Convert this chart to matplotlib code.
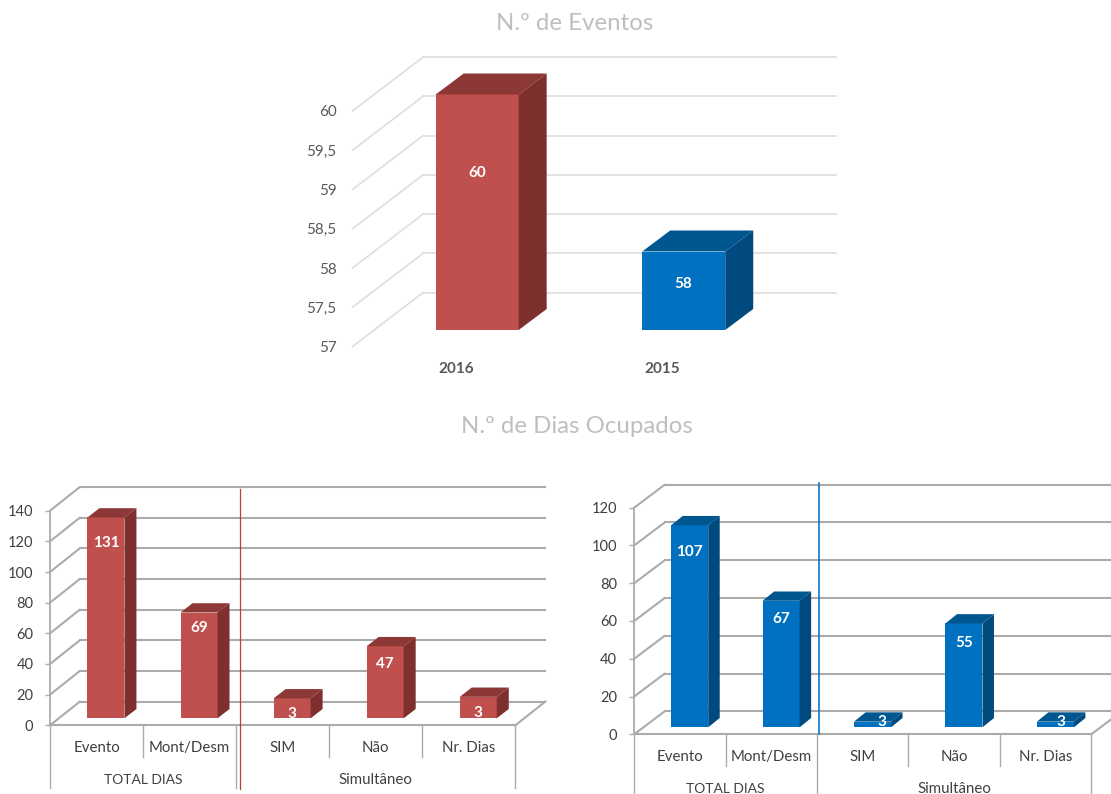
import matplotlib
matplotlib.use("Agg")
import matplotlib.pyplot as plt

plt.rcParams['font.family'] = ['Lato', 'DejaVu Sans']

# ---- data ----
years = ["2016", "2015"]
eventos = [60, 58]
eventos_labels = ["60", "58"]
eventos_ticks = [57, 57.5, 58, 58.5, 59, 59.5, 60]

cats = ["Evento", "Mont/Desm", "SIM", "Não", "Nr. Dias"]
groups = ["TOTAL DIAS", "Simultâneo"]
dias_2016 = [131, 69, 13, 47, 14]
dias_2016_labels = ["131", "69", "3", "47", "3"]
dias_2016_ticks = [0, 20, 40, 60, 80, 100, 120, 140]
dias_2015 = [107, 67, 3, 55, 3]
dias_2015_labels = ["107", "67", "3", "55", "3"]
dias_2015_ticks = [0, 20, 40, 60, 80, 100, 120]

W, H = 1111, 794
RED = ("#C0504D", "#8C3836", "#7D302E")
BLUE = ("#0070C0", "#00578F", "#004A7F")

fig = plt.figure(figsize=(W / 100, H / 100), dpi=100, facecolor="white")


def chart(vals, labels, names, ticks, box, wall, bar_off, depth, bar_w, colors,
          grid_c, grid_lw, tick_fmt, label_drop, label_dx, tick_c, ypad, xpad,
          ticklen=0, xweight="normal", xsize=10.8, ysize=10.5):
    x0, x1, ytop, ybot = box
    ax = fig.add_axes([x0 / W, 1 - ybot / H, (x1 - x0) / W, (ybot - ytop) / H])
    ax.patch.set_alpha(0)
    n = len(vals)
    lo, hi = ticks[0], ticks[-1]
    ax.set_xlim(-0.5, n - 0.5)
    ax.set_ylim(lo, hi)
    ux = (x1 - x0) / n      # px per category
    uy = (ybot - ytop) / (hi - lo)  # px per value
    wx, wy = wall[0] / ux, wall[1] / uy
    # walls and gridlines
    for t in ticks:
        ax.plot([-0.5, -0.5 + wx], [t, t + wy], color=grid_c, lw=grid_lw,
                clip_on=False, zorder=1, solid_capstyle="round")
        ax.plot([-0.5 + wx, n - 0.5 + wx], [t + wy, t + wy], color=grid_c,
                lw=grid_lw, clip_on=False, zorder=1)
    # bars with depth
    sx, sy = bar_off[0] / ux, bar_off[1] / uy
    dx, dy = depth[0] / ux, depth[1] / uy
    hw = bar_w / ux / 2
    for i, v in enumerate(vals):
        col = colors[i]
        xl, xr = i + sx - hw, i + sx + hw
        b, t = lo + sy, v + sy
        ax.bar(i + sx, t - b, bar_w / ux, bottom=b, color=col[0], zorder=3,
               clip_on=False, linewidth=0)
        ax.fill([xl, xl + dx, xr + dx, xr], [t, t + dy, t + dy, t], color=col[1],
                zorder=3, clip_on=False, lw=0)
        ax.fill([xr, xr + dx, xr + dx, xr], [b, b + dy, t + dy, t], color=col[2],
                zorder=3, clip_on=False, lw=0)
        ax.text(i + sx + label_dx[i] / ux, t - (label_drop[i] + 2.5) / uy, labels[i],
                color="white", fontweight="bold", fontsize=11, ha="center",
                va="center", zorder=5, clip_on=False)
    # axes
    for s in ax.spines.values():
        s.set_visible(False)
    ax.set_xticks(range(n))
    ax.set_xticklabels(names, fontsize=xsize, color=tick_c, fontweight=xweight)
    ax.set_yticks(ticks)
    ax.set_yticklabels([tick_fmt(t) for t in ticks], fontsize=ysize, color=tick_c)
    ax.tick_params(axis="x", length=0, pad=xpad)
    ax.tick_params(axis="y", length=ticklen, width=1, color=grid_c, pad=ypad)
    return ax, ux, uy, wx, wy


def multilevel(ax, uy, wx, wy, lo, n, grid_c, short_px, long_px, group_px, tick_c):
    ax.spines["left"].set_visible(True)
    ax.spines["left"].set_color(grid_c)
    ax.spines["left"].set_linewidth(1.3)
    ax.spines["bottom"].set_visible(True)
    ax.spines["bottom"].set_color(grid_c)
    ax.spines["bottom"].set_linewidth(1.5)
    ax.plot([n - 0.5, n - 0.5 + wx], [lo, lo + wy], color=grid_c, lw=1.5, clip_on=False, zorder=1)
    for i in range(n + 1):
        long = i in (0, 2, 5)
        ax.plot([i - 0.5, i - 0.5], [lo, lo - (long_px if long else short_px) / uy],
                color=grid_c, lw=1, clip_on=False, zorder=1)
    ax.text(0.5, lo - group_px / uy, groups[0], ha="center", va="center",
            fontsize=10, color=tick_c, clip_on=False)
    ax.text(3, lo - group_px / uy, groups[1], ha="center", va="center",
            fontsize=10.8, color=tick_c, clip_on=False)


comma = lambda t: (f"{t:g}").replace(".", ",")

# top chart
chart(eventos, eventos_labels, years, eventos_ticks,
      box=(352.5, 765.6, 111, 346.5), wall=(70.7, 54), bar_off=(21.4, 16.5), depth=(28, 21),
      bar_w=83, colors=[RED, BLUE], grid_c="#E0E0E0", grid_lw=1.3, tick_fmt=comma,
      label_drop=[76, 30], label_dx=[0, -1], tick_c="#595959", ypad=11.6, xpad=11.5,
      xweight="bold", xsize=11, ysize=11)

# red chart
ax2, ux2, uy2, wx2, wy2 = chart(
    dias_2016, dias_2016_labels, cats, dias_2016_ticks,
    box=(50, 515.4, 510.7, 725.3), wall=(30, 23.8), bar_off=(9.4, 7), depth=(12, 9.3),
    bar_w=37, colors=[RED] * 5, grid_c="#ABABAB", grid_lw=1.5, tick_fmt=str,
    label_drop=[23, 13, 13, 15, 14], label_dx=[0, 0, 0, 0, 0], tick_c="#404040",
    ypad=8.4, xpad=11, ticklen=3.6, ysize=10.5)
multilevel(ax2, uy2, wx2, wy2, 0, 5, "#ABABAB", 31.5, 63, 54.5, "#404040")
ax2.plot([(239.6 - 50) / ux2 - 0.5] * 2, [(725.3 - 789) / uy2, (725.3 - 489) / uy2],
         color="#B5403D", lw=0.9, clip_on=False, zorder=4)

# blue chart
ax3, ux3, uy3, wx3, wy3 = chart(
    dias_2015, dias_2015_labels, cats, dias_2015_ticks,
    box=(634.2, 1091.3, 507.7, 734.3), wall=(30.5, 23), bar_off=(9.8, 7), depth=(11.5, 9.3),
    bar_w=37, colors=[BLUE] * 5, grid_c="#ABABAB", grid_lw=1.5, tick_fmt=str,
    label_drop=[24, 16, -2.3, 17.5, -2.3], label_dx=[0, 0, 9.8, 0, 5.7], tick_c="#404040",
    ypad=8.8, xpad=11, ticklen=3.6, ysize=10.5)
multilevel(ax3, uy3, wx3, wy3, 0, 5, "#ABABAB", 31.5, 63, 54.5, "#404040")
ax3.plot([(818.7 - 634.2) / ux3 - 0.5] * 2, [0, (734.3 - 482.7) / uy3],
         color="#0A78C8", lw=1.2, clip_on=False, zorder=4)

# titles
fig.text(575 / W, 1 - 24 / H, "N.º de Eventos", fontsize=17.3, color="#BFBFBF",
         ha="center", va="center")
fig.text(577 / W, 1 - 426.5 / H, "N.º de Dias Ocupados", fontsize=17.3, color="#BFBFBF",
         ha="center", va="center")

fig.savefig("out.png", dpi=100, facecolor="white")
